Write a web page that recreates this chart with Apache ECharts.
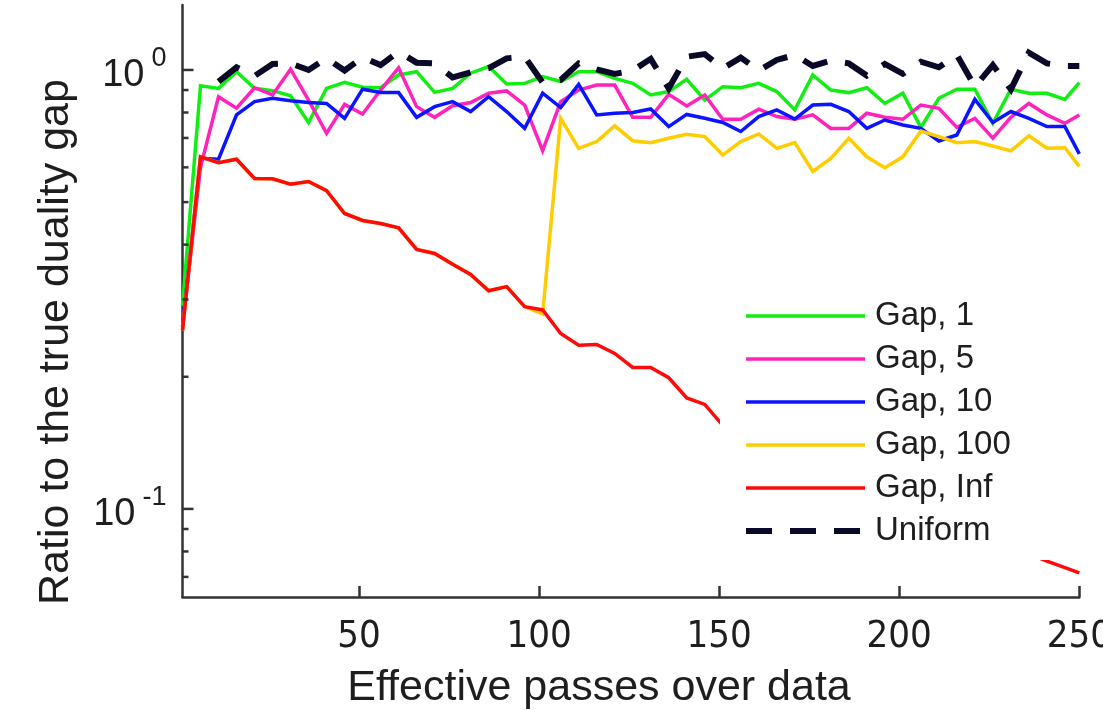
<!DOCTYPE html>
<html>
<head>
<meta charset="utf-8">
<script src="https://cdn.jsdelivr.net/npm/echarts@6/dist/echarts.min.js"></script>
<style>
html,body{margin:0;padding:0;background:#fff;}
#chart{width:1103px;height:710px;}
</style>
</head>
<body>
<div id="chart"></div>
<script>
// ---- data ----
const xValues = [1,6,11,16,21,26,31,36,41,46,51,56,61,66,71,76,81,86,91,96,101,106,111,116,121,126,131,136,141,146,151,156,161,166,171,176,181,186,191,196,201,206,211,216,221,226,231,236,241,246,250];

const gap1 = [0.29,0.921,0.908,0.991,0.908,0.897,0.873,0.759,0.908,0.937,0.913,0.911,0.974,0.991,0.889,0.908,0.983,1.018,0.929,0.932,0.966,0.941,0.991,0.991,0.957,0.932,0.877,0.893,0.952,0.854,0.916,0.911,0.932,0.893,0.811,0.974,0.900,0.888,0.911,0.839,0.885,0.740,0.862,0.904,0.904,0.756,0.904,0.885,0.885,0.857,0.936];

const gap5 = [0.26,0.60,0.869,0.818,0.911,0.877,1.004,0.854,0.717,0.835,0.794,0.900,1.012,0.825,0.780,0.829,0.843,0.885,0.896,0.832,0.655,0.847,0.900,0.924,0.924,0.780,0.780,0.880,0.828,0.877,0.772,0.772,0.814,0.783,0.772,0.790,0.736,0.736,0.797,0.780,0.772,0.832,0.818,0.740,0.776,0.699,0.780,0.839,0.790,0.756,0.790];

const gap10 = [0.26,0.629,0.626,0.790,0.847,0.862,0.851,0.843,0.839,0.776,0.904,0.889,0.888,0.780,0.825,0.847,0.804,0.869,0.804,0.736,0.885,0.821,0.927,0.790,0.797,0.800,0.815,0.743,0.792,0.776,0.759,0.724,0.783,0.811,0.773,0.832,0.835,0.804,0.736,0.769,0.749,0.736,0.689,0.711,0.857,0.759,0.804,0.776,0.743,0.743,0.644];

const gap100 = [0.255,0.634,0.615,0.626,0.566,0.565,0.549,0.557,0.531,0.471,0.454,0.447,0.437,0.390,0.382,0.361,0.342,0.314,0.321,0.289,0.278,0.776,0.663,0.687,0.746,0.690,0.683,0.699,0.714,0.705,0.640,0.687,0.715,0.663,0.683,0.587,0.629,0.699,0.634,0.599,0.634,0.726,0.705,0.683,0.687,0.671,0.654,0.708,0.663,0.665,0.603];

const gapInf = [0.255,0.634,0.615,0.626,0.566,0.565,0.549,0.557,0.531,0.471,0.454,0.447,0.437,0.390,0.382,0.361,0.342,0.314,0.321,0.289,0.284,0.251,0.236,0.237,0.226,0.210,0.210,0.199,0.179,0.173,0.155,0.150,0.145,0.140,0.135,0.130,0.124,0.119,0.115,0.110,0.106,0.101,0.097,0.093,0.089,0.086,0.082,0.079,0.076,0.0735,0.0715];

const uniform = [null,null,0.941,1.014,0.969,1.032,1.035,1.000,1.063,0.997,1.069,1.026,1.101,1.039,1.035,0.962,0.988,1.009,1.063,1.072,0.936,0.949,1.035,1.003,0.979,0.997,1.060,0.908,1.072,1.087,1.008,1.067,0.997,1.054,1.082,1.021,1.050,1.035,0.971,1.032,0.980,1.044,1.014,1.082,0.916,1.026,0.903,1.095,1.035,1.021,1.021];

const seriesNames = ['Gap, 1','Gap, 5','Gap, 10','Gap, 100','Gap, Inf','Uniform'];
const yMajorTicks = [0.1, 1];
const yMinorTicks = [0.07,0.08,0.09,0.2,0.3,0.4,0.5,0.6,0.7,0.8,0.9];
const yRange = [0.063, 1.406];
const xRange = [1, 250];

const xTitle = 'Effective passes over data';
const yTitle = 'Ratio to the true duality gap';

// ---- chart ----
const pair = arr => xValues.map((x, i) => [x, arr[i]]);
const axisColor = '#333333';
const textColor = '#1e1e1e';
const FONT = '"Liberation Sans", Arial, Helvetica, sans-serif';
const colors = ['#11ee11', '#ff22bb', '#0a14ff', '#ffcc00', '#ff0a0a', '#0a0a28'];
const LW = 3.5;
const DASH = [26, 18];

function lineSeries(i, arr) {
  const dashed = i === 5;
  return {
    name: seriesNames[i],
    type: 'line',
    data: pair(arr),
    symbol: 'none',
    showSymbol: false,
    connectNulls: false,
    animation: false,
    lineStyle: { color: colors[i], width: dashed ? 6 : LW, type: dashed ? DASH : 'solid', cap: 'butt', join: 'miter' },
    itemStyle: { color: colors[i] },
    z: dashed ? 3 : 2
  };
}

const tickData = yMajorTicks.map(v => [xRange[0], v, 1]).concat(yMinorTicks.map(v => [xRange[0], v, 0]));

const chart = echarts.init(document.getElementById('chart'), null, { renderer: 'canvas' });
chart.setOption({
  animation: false,
  backgroundColor: '#ffffff',
  grid: { left: 182.5, right: 23.7, top: 5, bottom: 113, containLabel: false, outerBoundsMode: 'none' },
  xAxis: {
    type: 'value',
    min: xRange[0], max: xRange[1],
    splitNumber: 5,
    axisLine: { show: true, lineStyle: { color: axisColor, width: 2.5 } },
    axisTick: { show: true, inside: true, length: 11, lineStyle: { color: axisColor, width: 2.5 } },
    axisLabel: {
      showMinLabel: false,
      margin: 21,
      color: textColor,
      fontSize: 38,
      fontFamily: '"Liberation Sans Narrow", "DejaVu Sans Condensed", "Liberation Sans", sans-serif'
    },
    splitLine: { show: false }
  },
  yAxis: {
    type: 'log',
    logBase: 10,
    min: yRange[0], max: yRange[1],
    axisLine: { show: true, lineStyle: { color: axisColor, width: 2.5 } },
    axisTick: { show: false },
    splitLine: { show: false },
    minorTick: { show: false },
    axisLabel: {
      showMinLabel: false,
      showMaxLabel: false,
      margin: 16,
      formatter: function (v) {
        const e = Math.log10(v);
        const r = Math.round(e);
        if (Math.abs(e - r) > 1e-6) return '';
        return '{b|10}{s|' + r + '}';
      },
      rich: {
        b: { fontSize: 38, fontFamily: FONT, color: textColor, verticalAlign: 'bottom', lineHeight: 50 },
        s: { fontSize: 27, fontFamily: FONT, color: textColor, verticalAlign: 'top', lineHeight: 28, padding: [0, 0, 0, 7] }
      }
    }
  },
  legend: {
    orient: 'vertical',
    left: 720,
    top: 291,
    data: seriesNames.map((n, i) => ({
      name: n,
      itemStyle: { opacity: 0 },
      lineStyle: { color: colors[i], width: i === 5 ? 6 : LW, type: i === 5 ? DASH : 'solid', opacity: 1 }
    })),
    itemWidth: 119,
    itemHeight: 12,
    itemGap: 9,
    padding: [8, 52, 12, 23],
    backgroundColor: '#ffffff',
    selectedMode: false,
    textStyle: { fontSize: 33, fontFamily: FONT, color: textColor, lineHeight: 34, padding: [0, 0, 0, 5] },
    z: 10
  },
  series: [
    lineSeries(0, gap1),
    lineSeries(1, gap5),
    lineSeries(2, gap10),
    lineSeries(3, gap100),
    lineSeries(4, gapInf),
    lineSeries(5, uniform),
    {
      type: 'custom',
      name: 'yticks',
      data: tickData,
      clip: false,
      silent: true,
      z: 5,
      renderItem: function (params, api) {
        const p = api.coord([api.value(0), api.value(1)]);
        const len = api.value(2) ? 11 : 6;
        return {
          type: 'line',
          shape: { x1: p[0], y1: p[1], x2: p[0] + len, y2: p[1] },
          style: { stroke: axisColor, lineWidth: 2.5 }
        };
      }
    }
  ],
  graphic: [
    {
      type: 'text',
      x: 56, y: 342,
      rotation: Math.PI / 2,
      style: { text: yTitle, fontSize: 43, fontFamily: FONT, fill: textColor, align: 'center', verticalAlign: 'middle' }
    },
    {
      type: 'text',
      x: 599, y: 688,
      style: { text: xTitle, fontSize: 43, fontFamily: FONT, fill: textColor, align: 'center', verticalAlign: 'middle' }
    }
  ]
});
</script>
</body>
</html>
